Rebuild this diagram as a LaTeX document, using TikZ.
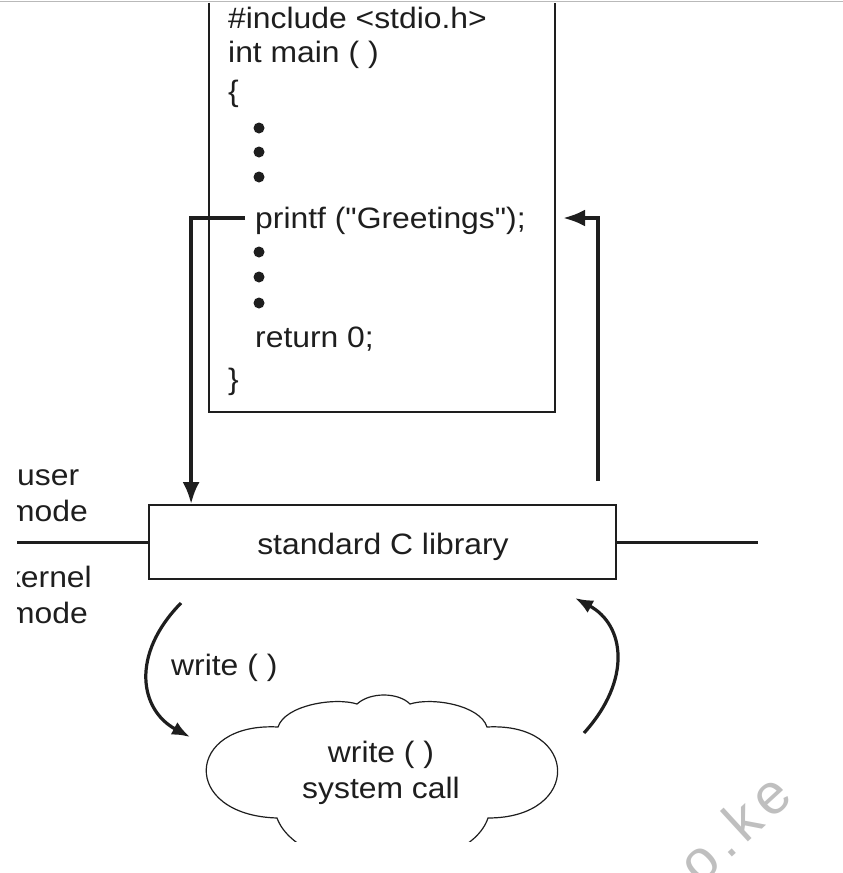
\documentclass[tikz,border=0pt]{standalone}
\usepackage{fontspec}
\newfontfamily\codefont{Liberation Sans}
\usepackage{graphicx}
\usetikzlibrary{arrows.meta,calc}
\newcommand\wtx[1]{\scalebox{1.08}[1]{#1}}
\definecolor{ink}{HTML}{1E1E1E}
\begin{document}
\begin{tikzpicture}[x=1pt,y=-1pt,
  txt/.style={inner sep=0pt,text=ink,font=\codefont\fontsize{29.5}{36}\selectfont},
  boxline/.style={draw=ink,line width=1.8pt},
  flow/.style={draw=ink,line width=3.8pt,-{Latex[length=22pt,width=17pt]}},
  curv/.style={draw=ink,line width=3.2pt,-{Latex[length=18pt,width=14pt]}},
  modeline/.style={draw=ink,line width=3pt},
  bullet/.style={circle,fill=ink,inner sep=0pt,minimum size=11pt},
  wmark/.style={text=gray!50,inner sep=0pt,rotate=42.5,font=\codefont\fontsize{57}{60}\selectfont}]
\useasboundingbox (0,0) rectangle (843,873);
\fill[white] (0,0) rectangle (843,873);

% code box
\draw[boxline] (209,2.5) -- (209,412) -- (555,412) -- (555,2.5);
\node[txt,anchor=base west] (inc) at (228,28) {\wtx{\#include <stdio.h>}};
\node[txt,anchor=base west] (main) at (228,62) {\wtx{int main ( )}};
\node[txt,anchor=base west] (lbrace) at (228,101) {\wtx{\{}};
\node[bullet] (d1) at (259,128) {};
\node[bullet] (d2) at (259,152) {};
\node[bullet] (d3) at (259,177) {};
\node[txt,anchor=base west] (printf) at (255,228) {\wtx{printf ("Greetings");}};
\node[bullet] (d4) at (259,252) {};
\node[bullet] (d5) at (259,277) {};
\node[bullet] (d6) at (259,303) {};
\node[txt,anchor=base west] (ret) at (255,347) {\wtx{return 0;}};
\node[txt,anchor=base west] (rbrace) at (228,389) {\wtx{\}}};

% library box
\node[draw=ink,line width=1.8pt,minimum width=467pt,minimum height=74pt,inner sep=0pt] (lib) at (382.5,542) {};
\node[txt,anchor=base] (libtext) at (383,554) {\wtx{standard C library}};

% call / return arrows
\coordinate (callout) at (245,218);
\draw[flow] (callout) -| ($(lib.north west)+(43,0)$);
\coordinate (retstart) at (598,481);
\coordinate (rettip) at (563,218);
\draw[flow] (retstart) |- (rettip);

% mode lines
\coordinate (ml) at (17,542);
\coordinate (mr) at (758,542);
\draw[modeline] (ml) -- (lib.west);
\draw[modeline] (lib.east) -- (mr);
\node[txt,anchor=base west] (user) at (17,485) {\wtx{user}};
\node[txt,anchor=base east] (umode) at (88,521) {\wtx{mode}};
\node[txt,anchor=base east] (kern) at (92,587) {\wtx{kernel}};
\node[txt,anchor=base east] (kmode) at (88,623) {\wtx{mode}};
\fill[white] (0,4) rectangle (16.5,873);

% curved arrows
\coordinate (wl1) at (181,603);
\coordinate (wl2) at (190,737);
\draw[curv] (wl1) .. controls (130,655) and (140,710) .. (wl2);
\coordinate (wr1) at (584,733);
\coordinate (wr2) at (575,598);
\draw[curv] (wr1) .. controls (632,680) and (625,625) .. (wr2);
\node[txt,anchor=base west] (wlabel) at (171,675) {\wtx{write ( )}};

% cloud
\begin{scope}
\clip (0,0) rectangle (843,841);
\draw[draw=ink,line width=1.2pt]
  (278,727) .. controls (285,705) and (335,697) .. (357,704)
  .. controls (370,692) and (398,692) .. (410,704)
  .. controls (432,697) and (480,705) .. (487,727)
  .. controls (580,722) and (582,818) .. (488,818)
  .. controls (478,848) and (430,868) .. (383,862)
  .. controls (336,868) and (288,848) .. (277,818)
  .. controls (180,815) and (185,722) .. (278,727) -- cycle;
\end{scope}
\node[txt,align=center] (sys) at (381,773) {\wtx{write ( )}\\\wtx{system call}};

% top rule and watermark
\draw[gray!55,line width=1.5pt] (0,1.5) -- (843,1.5);
\node[wmark] (wm) at (734,828) {o\kern7pt.\kern7pt k\kern7pt e};
\end{tikzpicture}
\end{document}
